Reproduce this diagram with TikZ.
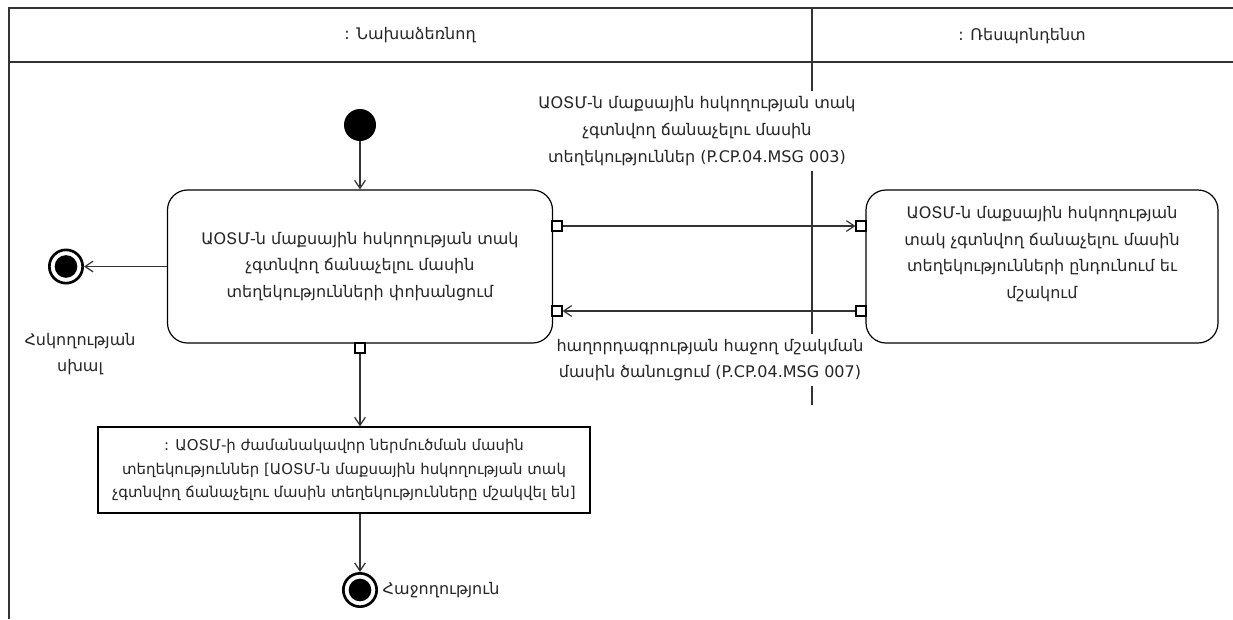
\documentclass[tikz,border=0pt]{standalone}
\usepackage{fontspec}
\setmainfont{DejaVu Sans}
\usetikzlibrary{arrows.meta}

\begin{document}
\begin{tikzpicture}[x=0.75pt,y=-0.75pt,
    >={Straight Barb[length=6pt,width=8pt]},
    every node/.style={font=\fontsize{12}{20}\selectfont, text=black!85},
    lane/.style={line width=1.5pt, draw=black!80},
    flow/.style={->, line width=0.9pt, draw=black!80},
    action/.style={draw, line width=0.9pt, rounded corners=15pt, align=center,
        minimum width=288.75pt, minimum height=114.75pt},
    objbox/.style={draw, line width=0.9pt, align=center, inner sep=2pt,
        font=\fontsize{11.2}{17.5}\selectfont,
        minimum width=369pt, minimum height=64.5pt},
    portbox/.style={draw, fill=white, line width=0.8pt, inner sep=0pt, minimum size=7.5pt},
    startnode/.style={circle, fill=black, inner sep=0pt, minimum size=24pt},
    endnode/.style={circle, draw, line width=2pt, inner sep=0pt, minimum size=25pt,
        path picture={\fill (path picture bounding box.center) circle (8.5pt);}},
    msg/.style={align=center, fill=white, inner sep=4pt}
]
    \useasboundingbox (0,0) rectangle (1233,619);

    % Swimlanes
    \draw[lane] (9,619) -- (9,8) -- (1233,8);
    \draw[lane] (9,62) -- (1233,62);
    \draw[lane] (812,8) -- (812,405);
    \node (hInit) at (410,35) {: Նախաձեռնող};
    \node (hResp) at (1022,36) {: Ռեսպոնդենտ};

    % Define nodes
    \node[startnode] (start) at (360,125) {};
    \node[action] (send) at (360,266.5) {ԱՕՏՄ-ն մաքսային հսկողության տակ\\
        չգտնվող ճանաչելու մասին\\ տեղեկությունների փոխանցում};
    \node[action, minimum width=264pt] (recv) at (1042,266.5) {};
    \node[align=center] (recvText) at (1042,254) {ԱՕՏՄ-ն մաքսային հսկողության\\
        տակ չգտնվող ճանաչելու մասին\\ տեղեկությունների ընդունում եւ\\ մշակում};
    \node[objbox] (info) at (344,470) {: ԱՕՏՄ-ի ժամանակավոր ներմուծման մասին\\
        տեղեկություններ [ԱՕՏՄ-ն մաքսային հսկողության տակ\\
        չգտնվող ճանաչելու մասին տեղեկությունները մշակվել են]};
    \node[endnode] (endErr) at (66,266.5) {};
    \node[endnode] (endOk) at (360,590) {};
    \node[align=center] (lErr) at (80,354) {Հսկողության\\ սխալ};
    \node[anchor=west] (lOk) at (endOk.east) {Հաջողություն};

    % Pins
    \node[portbox] (outMsg) at (557,226) {};
    \node[portbox] (inAck) at (557,311) {};
    \node[portbox] (inMsg) at (861,226) {};
    \node[portbox] (outAck) at (861,311) {};
    \node[portbox] (outInfo) at (360,348) {};

    % Draw arrows
    \draw[flow] (start) -- (send);
    \draw[flow] (send) -- (endErr);
    \draw[flow] (outMsg) -- (inMsg);
    \draw[flow] (outAck) -- (inAck);
    \draw[flow] (outInfo) -- (outInfo |- info.north);
    \draw[flow] (endOk |- info.south) -- (endOk);

    % Message labels
    \node[msg] (m003) at (697,131) {ԱՕՏՄ-ն մաքսային հսկողության տակ\\
        չգտնվող ճանաչելու մասին\\ տեղեկություններ (P.CP.04.MSG 003)};
    \node[msg] (m007) at (710,360) {հաղորդագրության հաջող մշակման\\
        մասին ծանուցում (P.CP.04.MSG 007)};
\end{tikzpicture}
\end{document}
